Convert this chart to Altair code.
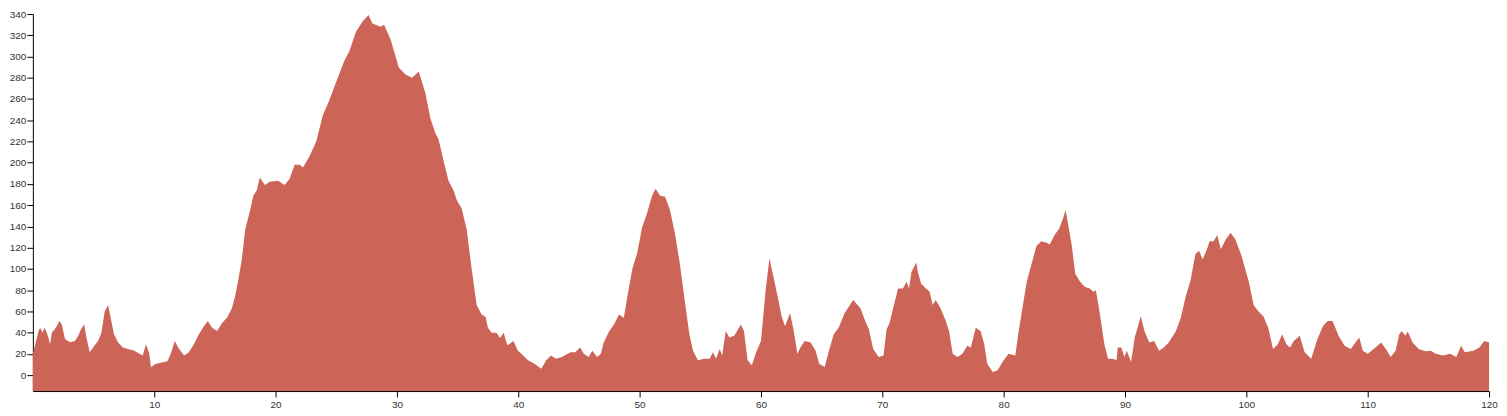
import altair as alt
import pandas as pd

xs = [0.0, 0.33, 0.47, 0.6, 0.8, 0.96, 1.15, 1.29, 1.42, 1.56, 1.78, 1.97, 2.18, 2.38, 2.65, 3.06, 3.47, 3.74, 3.96, 4.23,
      4.42, 4.69, 4.96, 5.37, 5.65, 5.92, 6.2, 6.41, 6.68, 7.01, 7.42, 7.83, 8.37, 8.78, 9.05, 9.32, 9.6, 9.73, 10.14, 10.55,
      11.09, 11.37, 11.69, 12.05, 12.46, 12.86, 13.27, 13.68, 14.09, 14.42, 14.77, 15.18, 15.59, 16.0, 16.4, 16.68, 16.95, 17.22, 17.5, 17.9,
      18.17, 18.45, 18.7, 19.12, 19.53, 20.2, 20.75, 21.16, 21.57, 21.98,
      22.26, 22.8, 23.35, 23.9, 24.44, 24.99, 25.67, 26.08, 26.62, 27.17, 27.66, 27.98, 28.66, 28.94, 29.48, 30.16, 30.71, 31.25, 31.8, 32.34,
      32.75, 33.16, 33.43, 33.84, 34.25, 34.66, 34.93, 35.34, 35.75, 36.16, 36.57, 36.98, 37.3,
      37.5, 37.8, 38.2, 38.5, 38.8, 39.1, 39.6, 39.97, 40.4, 40.8, 41.3, 41.9, 42.3, 42.7, 43.1, 43.6, 44.3, 44.7, 45.1, 45.4,
      45.8, 46.1, 46.5, 46.8, 47.05, 47.5, 47.9, 48.3, 48.7, 48.96, 49.4, 49.8, 50.2, 50.6, 51.0, 51.3, 51.7, 52.1, 52.5, 52.9,
      53.3, 53.7, 54.1, 54.4, 54.8,
      55.36, 55.77, 56.04, 56.3, 56.6, 56.8, 57.1, 57.4, 57.8, 58.35, 58.6, 58.9, 59.25, 59.6, 60.0, 60.4, 60.7, 61.0, 61.35, 61.7,
      61.98, 62.4, 62.7, 63.0, 63.25, 63.6, 64.1, 64.5, 64.8, 65.25, 65.6, 66.0, 66.4, 66.9, 67.6, 68.2, 68.6, 68.9, 69.25, 69.7,
      70.1, 70.35, 70.6, 71.0, 71.3, 71.7, 72.0, 72.2, 72.4, 72.8,
      72.93, 73.2, 73.6, 73.9, 74.15, 74.4, 74.8, 75.2, 75.5, 75.8, 76.2, 76.6, 77.0, 77.3, 77.7, 78.1, 78.4, 78.65, 79.1, 79.5,
      80.0, 80.4, 80.96, 81.2, 81.5, 81.9, 82.3, 82.7, 83.1, 83.55, 83.8, 84.2, 84.6, 84.9, 85.1, 85.3, 85.6, 85.9, 86.3, 86.7,
      87.1, 87.4, 87.6, 87.9, 88.3, 88.6, 89.0, 89.3, 89.4, 89.7, 89.95, 90.15, 90.5, 90.8,
      91.3, 91.6, 92.0, 92.4, 92.8, 93.2, 93.6, 94.2, 94.6, 95.0, 95.4, 95.8, 96.1, 96.4, 96.8, 96.96, 97.3, 97.6, 97.9, 98.3,
      98.7, 99.1, 99.6, 100.2, 100.6, 101.0, 101.4, 101.8, 102.2, 102.6, 102.95, 103.3, 103.6, 103.9, 104.4, 104.8, 105.35, 105.8, 106.3, 106.7,
      107.1, 107.6, 108.1, 108.6,
      109.3, 109.6, 110.0, 110.5, 111.1, 111.5, 111.9, 112.3, 112.6, 112.8, 113.1, 113.3, 113.7, 114.2, 114.75, 115.2, 115.6, 116.2, 116.8, 117.3,
      117.7, 118.0, 118.7, 119.2, 119.6, 120.0]

ys = [20, 35, 41.6, 44.6, 40, 44.6, 40, 35, 29, 40, 43, 46, 51, 48, 34, 31, 32, 37, 43, 48,
      35, 21.6, 26, 32, 40, 60, 66, 54, 38.5, 31, 26, 24.6, 23, 20, 18.5, 29, 20, 7.7, 10.8, 11.7,
      13, 20, 32, 24.6, 18.5, 21.6, 29, 38.5, 46, 51, 44.6, 41.6, 49, 54, 63, 75, 91, 109, 137, 155,
      169, 174, 186, 179, 182, 183, 179, 185, 198, 198,
      195.6, 206, 220, 245, 259, 276, 296, 305, 323, 333, 339, 331, 328, 330, 316, 289.5, 283, 280, 286, 266,
      242, 228, 222, 202, 183, 174, 165, 157, 137, 100, 66, 57, 55,
      44.7, 40, 40, 35, 40, 28, 32, 23, 18.5, 14, 11, 6, 14, 18.5, 15.4, 17, 21.6, 21.6, 26, 20,
      17, 23, 17, 20, 31, 41.6, 48, 57, 54, 72, 100, 115, 139, 152, 168, 175.5, 169, 168, 155.5, 134,
      106, 72, 38.5, 23, 14,
      15.4, 15.4, 21.6, 15.4, 24.6, 18.5, 41.6, 35.4, 37, 47.7, 41.6, 13.9, 9.2, 21.6, 32, 81.6, 110, 94, 75.5, 55.4,
      46, 58.5, 41.6, 20, 26, 32, 30.8, 23, 10.8, 7.7, 23, 38.5, 44.7, 58.5, 70.8, 63, 50.8, 43, 24.6, 17,
      18.5, 43, 49, 67.8, 81.6, 81.6, 87.8, 81.6, 97, 106,
      97, 86, 81.6, 78.5, 66, 70.8, 63, 52, 41.6, 20, 17, 20, 27.7, 26, 44.7, 41.6, 29, 10.8, 3, 4.6,
      13.9, 20, 18.5, 38.5, 60, 87.8, 104.7, 121.6, 126, 124.7, 123, 132, 138.6, 147.8, 155.5, 143, 123, 95.5, 87.8, 83,
      81.6, 78.5, 80, 60, 29, 15.4, 15.4, 13.9, 26, 26, 17, 23, 12.3, 35.4,
      55.4, 41.6, 30.8, 32, 23, 26, 30.8, 41.6, 54, 74, 89, 114, 117, 109, 120, 126, 126, 132, 118.6, 127.8,
      134, 127.8, 112.4, 87.8, 66, 60, 55.4, 44.7, 24.6, 29, 38.5, 29, 26, 32, 37, 21.6, 15.4, 32, 46, 51,
      51, 37, 27.7, 24.6,
      35.4, 23, 20, 24.6, 30.8, 24.6, 17, 23, 38.5, 41.6, 37, 41, 30.8, 24.6, 22.5, 23, 20, 18.5, 20, 17,
      27.7, 21.6, 23, 26, 32, 30.8]

x_ticks = list(range(10, 121, 10))
y_ticks = list(range(0, 341, 20))

df = pd.DataFrame({"x": xs, "y": ys})

axis_common = dict(
    grid=False, title=None, domainColor="#000", tickColor="#000", tickSize=6,
    labelColor="#333", labelFont="Liberation Sans", labelFontSize=10,
    labelFlush=False, labelOverlap=False, domainWidth=1, tickWidth=1,
)

chart = alt.Chart(df).mark_area(color="#cd6458", interpolate="linear").encode(
    x=alt.X("x:Q", scale=alt.Scale(domain=[0, 120], nice=False, zero=False),
            axis=alt.Axis(values=x_ticks, labelPadding=3, **axis_common)),
    y=alt.Y("y:Q", scale=alt.Scale(domain=[-15, 340], nice=False, zero=False),
            axis=alt.Axis(values=y_ticks, labelPadding=1, **axis_common)),
    y2=alt.datum(-15),
).properties(
    width=1464, height=379,
    autosize=alt.AutoSizeParams(type="none"),
    padding={"left": 25, "top": 5, "right": 10, "bottom": 22},
).configure_view(stroke=None)

chart.save("out.html", embed_options={"renderer": "svg", "actions": False})
